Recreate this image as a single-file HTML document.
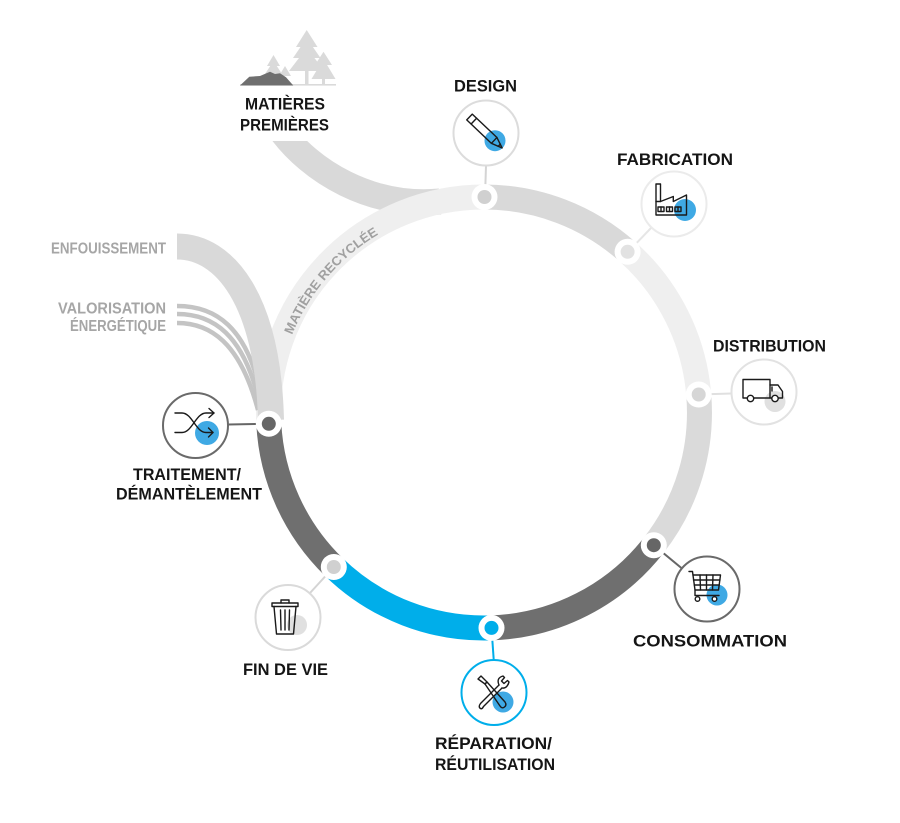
<!DOCTYPE html>
<html>
<head>
<meta charset="utf-8">
<style>
html,body{margin:0;padding:0;background:#fff;}
svg{display:block;}
.lbl{font-family:"Liberation Sans",Arial,sans-serif;font-weight:bold;font-size:17px;fill:#151515;}
.glbl{font-family:"Liberation Sans",Arial,sans-serif;font-weight:bold;font-size:16px;fill:#a6a6a6;}
.ic{fill:none;stroke:#1a1a1a;stroke-width:1.4;stroke-linejoin:round;stroke-linecap:round;}
</style>
</head>
<body>
<svg width="900" height="823" viewBox="0 0 900 823" xmlns="http://www.w3.org/2000/svg">
<defs>
<clipPath id="cl1"><rect x="0" y="141" width="900" height="700"/></clipPath>
<path id="tp" d="M292.1,334.96 A207,207 0 0 1 386.8,229.7" fill="none"/>
</defs>

<!-- trees -->
<g fill="#dadada">
<polygon points="306.7,30 296,47 317.5,47"/>
<polygon points="306.7,38 293,58 320.5,58"/>
<polygon points="306.7,48 289,71 324.5,71"/>
<rect x="305" y="70" width="3.5" height="15"/>
<polygon points="323.5,51.7 315,65 332,65"/>
<polygon points="323.5,59 311.5,79 335.5,79"/>
<rect x="322" y="78" width="3" height="7"/>
<polygon points="273.5,55 267,66 280,66"/>
<polygon points="273.5,61 265,74 282,74"/>
<polygon points="285,66 279,76 291,76"/>
<rect x="240" y="84" width="96" height="1.6"/>
</g>
<polygon points="240,85.5 249.3,76.7 260,76 270,71.7 275,74 280,73.3 286,77.3 293.3,85.5" fill="#6f6f6f"/>

<!-- matieres premieres band -->
<path d="M279,128 C310,172 372,208 440,201.5" fill="none" stroke="#d9d9d9" stroke-width="26" clip-path="url(#cl1)"/>

<!-- ring -->
<g fill="none" stroke-width="25">
<path d="M484,197 A215.5,215.5 0 0 1 627.6,251.8" stroke="#d9d9d9"/>
<path d="M627.6,251.8 A215.5,215.5 0 0 1 698.7,394.5" stroke="#efefef"/>
<path d="M698.7,394.5 A215.5,215.5 0 0 1 653.8,545.2" stroke="#dadada"/>
<path d="M653.8,545.2 A215.5,215.5 0 0 1 491.5,627.9" stroke="#6f6f6f"/>
<path d="M491.5,627.9 A215.5,215.5 0 0 1 333.8,567" stroke="#00aeea"/>
<path d="M333.8,567 A215.5,215.5 0 0 1 268.8,423.8" stroke="#6f6f6f"/>
<path d="M268.8,423.8 A215.5,215.5 0 0 1 484,197" stroke="#efefef"/>
</g>
<text font-family="Liberation Sans, Arial, sans-serif" font-size="13" font-weight="bold" fill="#a0a0a0"><textPath href="#tp" textLength="135" lengthAdjust="spacingAndGlyphs">MATIÈRE RECYCLÉE</textPath></text>

<!-- valorisation lines -->
<g fill="none" stroke="#c4c4c4" stroke-width="4.5">
<path d="M177,306 C214,306 248,325 262,400"/>
<path d="M177,314 C212,314 244,333 260,405"/>
<path d="M177,323 C210,323 240,342 258,410"/>
</g>
<!-- enfouissement band -->
<path d="M177,246.5 C225,246.5 268,300 271,420" fill="none" stroke="#d9d9d9" stroke-width="26"/>

<!-- connectors -->
<g stroke-width="2" fill="none">
<line x1="486" y1="166" x2="485" y2="197" stroke="#d4d4d4"/>
<line x1="651" y1="228" x2="628" y2="252" stroke="#e6e6e6"/>
<line x1="731" y1="393.5" x2="698.7" y2="394.5" stroke="#e0e0e0"/>
<line x1="681.4" y1="568" x2="653.8" y2="545.2" stroke="#666"/>
<line x1="493.7" y1="659.5" x2="491.5" y2="628" stroke="#00aeea"/>
<line x1="310" y1="593" x2="333.8" y2="567" stroke="#d4d4d4"/>
<line x1="228.5" y1="424.5" x2="268.8" y2="423.8" stroke="#666"/>
</g>

<!-- node dots -->
<g fill="#fff">
<circle cx="484.5" cy="197" r="13"/>
<circle cx="627.6" cy="251.8" r="13"/>
<circle cx="698.7" cy="394.5" r="13"/>
<circle cx="653.8" cy="545.2" r="13"/>
<circle cx="491.5" cy="627.9" r="13"/>
<circle cx="333.8" cy="567" r="13"/>
<circle cx="268.8" cy="423.8" r="13"/>
</g>
<circle cx="484.5" cy="197" r="7" fill="#d0d0d0"/>
<circle cx="627.6" cy="251.8" r="7" fill="#e2e2e2"/>
<circle cx="698.7" cy="394.5" r="7" fill="#d6d6d6"/>
<circle cx="653.8" cy="545.2" r="7" fill="#666"/>
<circle cx="491.5" cy="627.9" r="7" fill="#00aeea"/>
<circle cx="333.8" cy="567" r="7" fill="#d0d0d0"/>
<circle cx="268.8" cy="423.8" r="7" fill="#666"/>

<!-- icon circles -->
<g fill="#fff" stroke-width="2">
<circle cx="486" cy="133" r="32.5" stroke="#dcdcdc"/>
<circle cx="674" cy="204" r="32.5" stroke="#ebebeb"/>
<circle cx="764" cy="392" r="32.5" stroke="#e2e2e2"/>
<circle cx="707" cy="589" r="32.5" stroke="#6a6a6a"/>
<circle cx="494" cy="692.5" r="32.5" stroke="#00aeea"/>
<circle cx="288" cy="617.5" r="32.5" stroke="#dadada"/>
<circle cx="195.5" cy="425.5" r="32.5" stroke="#6a6a6a"/>
</g>

<!-- accent circles -->
<circle cx="495" cy="140.7" r="10.5" fill="#3fa9e4"/>
<circle cx="685" cy="210" r="11" fill="#3fa9e4"/>
<circle cx="775" cy="401.5" r="10.5" fill="#e0e0e0"/>
<circle cx="717" cy="595" r="10.5" fill="#3fa9e4"/>
<circle cx="503" cy="702" r="10.5" fill="#3fa9e4"/>
<circle cx="297" cy="625" r="10" fill="#e0e0e0"/>
<circle cx="207" cy="433" r="12" fill="#3fa9e4"/>

<!-- design pencil -->
<g transform="translate(469.5,117) rotate(43.5)" class="ic">
<rect x="0" y="-4" width="34" height="8"/>
<line x1="6" y1="-4" x2="6" y2="4"/>
<path d="M34,-4 L45,0 L34,4"/>
<line x1="41" y1="-1.5" x2="41" y2="1.5"/>
</g>

<!-- factory -->
<g class="ic">
<path d="M656,215 V184 H660.5 V201.5 L673.3,196.5 V201.5 L686.5,195 V215 Z"/>
<line x1="656" y1="201.5" x2="660.5" y2="201.5"/>
<rect x="658" y="207" width="6" height="4.5"/>
<rect x="666.5" y="207" width="6" height="4.5"/>
<rect x="675" y="207" width="6" height="4.5"/>
<line x1="661" y1="207" x2="661" y2="211.5"/>
<line x1="669.5" y1="207" x2="669.5" y2="211.5"/>
<line x1="678" y1="207" x2="678" y2="211.5"/>
</g>

<!-- truck -->
<g class="ic">
<rect x="743" y="379.5" width="27" height="18.5"/>
<path d="M770,385 H778 L782.5,391.5 V398 H770"/>
<line x1="772" y1="387" x2="772" y2="391"/>
<circle cx="750.5" cy="398.5" r="3.2" fill="#fff"/>
<circle cx="775" cy="398.5" r="3.2" fill="#fff"/>
</g>

<!-- cart -->
<g class="ic" stroke-width="1.2">
<path d="M689,571.5 H692.5 L695,590 V595.5 H719"/>
<path d="M693,575 H720.5 L718.5,590 H695"/>
<line x1="700" y1="575" x2="700.5" y2="590"/>
<line x1="706.5" y1="575" x2="706.5" y2="590"/>
<line x1="713" y1="575" x2="712.5" y2="590"/>
<line x1="693.5" y1="580" x2="720" y2="580"/>
<line x1="694.3" y1="585" x2="719.3" y2="585"/>
<circle cx="697.5" cy="599" r="2.3" fill="#fff"/>
<circle cx="714.5" cy="599" r="2.3" fill="#fff"/>
</g>

<!-- tools -->
<g class="ic">
<path d="M478,679 L481,676 L487,682 L485,684 Z"/>
<path d="M485,684 L487,682 L505,702 Q507,705 504.5,707 Q502,709 500,706 Z"/>
<path d="M480.5,703.5 L499,685 M483.5,706.5 L502,688 M480.5,703.5 Q478,707 480.5,708.5 Q482,709.5 483.5,706.5"/>
<path d="M499,685 Q496,678 503,676 L504.5,677.5 L501.5,681 L504,683.5 L507.5,680.5 L509,682 Q507,689 502,688"/>
</g>

<!-- trash -->
<g class="ic">
<rect x="272" y="603" width="26" height="3.5"/>
<path d="M281,603 V600 H289 V603"/>
<path d="M274,606.5 L276.5,634 H293.5 L296,606.5"/>
<line x1="280.5" y1="610" x2="281" y2="630"/>
<line x1="285" y1="610" x2="285" y2="630"/>
<line x1="289.5" y1="610" x2="289" y2="630"/>
</g>

<!-- shuffle -->
<g class="ic" stroke-width="1.3">
<path d="M175,413 H182 C192,413 196,432.5 206,432.5 H213"/>
<path d="M175,432.5 H182 C192,432.5 196,413 206,413 H214"/>
<path d="M209,408.5 L214,413 L209,417.5"/>
<path d="M208.5,428 L213,432.5 L208.5,437"/>
</g>

<!-- labels -->
<text class="lbl" x="285" y="109.3" text-anchor="middle" textLength="80" lengthAdjust="spacingAndGlyphs">MATIÈRES</text>
<text class="lbl" x="284.5" y="130.7" text-anchor="middle" textLength="89" lengthAdjust="spacingAndGlyphs">PREMIÈRES</text>
<text class="lbl" x="485.5" y="91.7" text-anchor="middle" textLength="63" lengthAdjust="spacingAndGlyphs">DESIGN</text>
<text class="lbl" x="675" y="165" text-anchor="middle" textLength="116" lengthAdjust="spacingAndGlyphs">FABRICATION</text>
<text class="lbl" x="769.5" y="351.7" text-anchor="middle" textLength="113" lengthAdjust="spacingAndGlyphs">DISTRIBUTION</text>
<text class="lbl" x="710" y="646.7" text-anchor="middle" textLength="154" lengthAdjust="spacingAndGlyphs">CONSOMMATION</text>
<text class="lbl" x="493.5" y="749" text-anchor="middle" textLength="117" lengthAdjust="spacingAndGlyphs">RÉPARATION/</text>
<text class="lbl" x="495" y="770" text-anchor="middle" textLength="120" lengthAdjust="spacingAndGlyphs">RÉUTILISATION</text>
<text class="lbl" x="285.5" y="675" text-anchor="middle" textLength="85" lengthAdjust="spacingAndGlyphs">FIN DE VIE</text>
<text class="lbl" x="187" y="480" text-anchor="middle" textLength="108" lengthAdjust="spacingAndGlyphs">TRAITEMENT/</text>
<text class="lbl" x="189" y="499.3" text-anchor="middle" textLength="146" lengthAdjust="spacingAndGlyphs">DÉMANTÈLEMENT</text>
<text class="glbl" x="166" y="253.3" text-anchor="end" textLength="115" lengthAdjust="spacingAndGlyphs">ENFOUISSEMENT</text>
<text class="glbl" x="166" y="313.3" text-anchor="end" textLength="108" lengthAdjust="spacingAndGlyphs">VALORISATION</text>
<text class="glbl" x="166" y="331" text-anchor="end" textLength="96" lengthAdjust="spacingAndGlyphs">ÉNERGÉTIQUE</text>
</svg>
</body>
</html>
